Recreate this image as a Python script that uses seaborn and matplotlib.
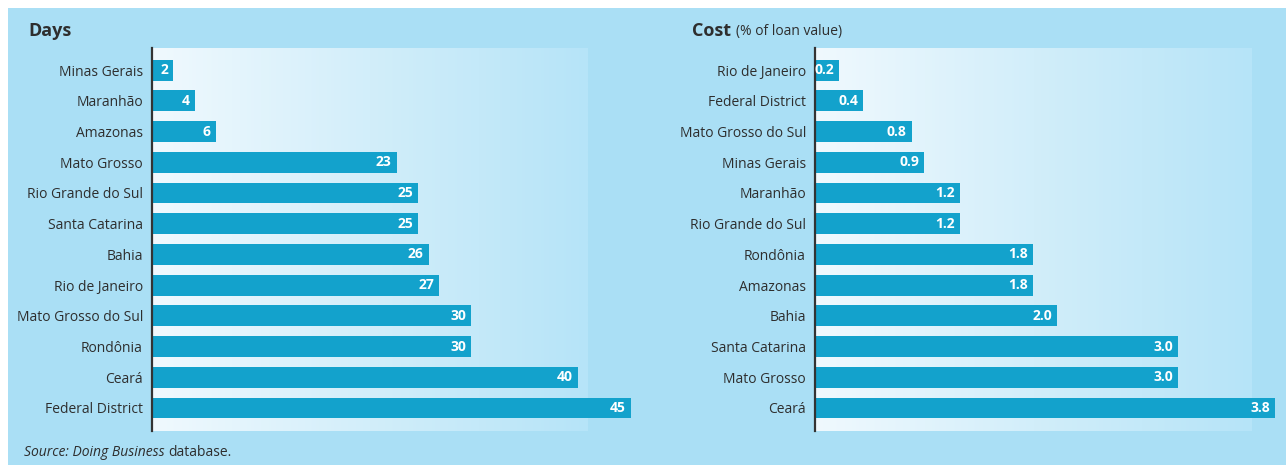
import numpy as np
import seaborn as sns
import matplotlib.pyplot as plt
from matplotlib.colors import LinearSegmentedColormap
from matplotlib.patches import Rectangle

days_states = ["Minas Gerais", "Maranhão", "Amazonas", "Mato Grosso", "Rio Grande do Sul",
               "Santa Catarina", "Bahia", "Rio de Janeiro", "Mato Grosso do Sul",
               "Rondônia", "Ceará", "Federal District"]
days_values = [2, 4, 6, 23, 25, 25, 26, 27, 30, 30, 40, 45]

cost_states = ["Rio de Janeiro", "Federal District", "Mato Grosso do Sul", "Minas Gerais",
               "Maranhão", "Rio Grande do Sul", "Rondônia", "Amazonas", "Bahia",
               "Santa Catarina", "Mato Grosso", "Ceará"]
cost_values = [0.2, 0.4, 0.8, 0.9, 1.2, 1.2, 1.8, 1.8, 2.0, 3.0, 3.0, 3.8]

BG = "#aadff5"
BAR = "#13a2cc"
TXT = "#2e2e2e"

sns.set_theme(style="white")
plt.rcParams["font.family"] = ["Open Sans", "DejaVu Sans"]

fig = plt.figure(figsize=(12.86, 4.65), dpi=100, facecolor="white")
fig.patches.append(Rectangle((8 / 1286, 0), 1, (465 - 8) / 465, transform=fig.transFigure,
                             facecolor=BG, edgecolor="none", zorder=-10))

grad = LinearSegmentedColormap.from_list("g", ["#f0f9fe", "#d2eefa", "#b6e4f8"])
ramp = np.linspace(0, 1, 256).reshape(1, -1)


def panel(rect, states, values, xmax, gmax, fmt):
    ax = fig.add_axes(rect)
    ax.set_facecolor("none")
    sns.barplot(x=values, y=states, order=states, color=BAR, saturation=1, width=0.68,
                orient="h", ax=ax, zorder=2, linewidth=0)
    ax.imshow(ramp, cmap=grad, aspect="auto", extent=(0, gmax, 11.75, -0.72), zorder=0)
    ax.set_xlim(0, xmax)
    ax.set_ylim(11.75, -0.72)
    ax.set_xlabel("")
    ax.set_ylabel("")
    ax.set_xticks([])
    for s in ["top", "right", "bottom"]:
        ax.spines[s].set_visible(False)
    ax.spines["left"].set_color("#333333")
    ax.spines["left"].set_linewidth(1.6)
    ax.spines["left"].set_zorder(3)
    ax.tick_params(axis="y", length=0, pad=6.5, labelsize=10, labelcolor=TXT)
    for i, v in enumerate(values):
        ax.annotate(fmt.format(v), (v, i), xytext=(-5, 0), textcoords="offset pixels",
                    ha="right", va="center", color="white", fontsize=10,
                    fontweight="bold", zorder=4)
    return ax


bottom = (465 - 431) / 465
height = (431 - 48) / 465
panel([152 / 1286, bottom, 488 / 1286, height], days_states, days_values,
      488 / 10.64, (588 - 152) / 10.64, "{:d}")
panel([815 / 1286, bottom, 467 / 1286, height], cost_states, cost_values,
      467 / 121, (1252 - 815) / 121, "{:.1f}")

fig.text(28 / 1286, 1 - 31 / 465, "Days", fontsize=13, fontweight="bold", color=TXT,
         ha="left", va="center")
fig.text(692 / 1286, 1 - 31 / 465, "Cost", fontsize=13, fontweight="bold", color=TXT,
         ha="left", va="center")
fig.text(736 / 1286, 1 - 31 / 465, "(% of loan value)", fontsize=10, color=TXT,
         ha="left", va="center")

src = fig.text(24 / 1286, 1 - 452 / 465, "Source: Doing Business", fontsize=10,
               style="italic", color=TXT, ha="left", va="center")
fig.canvas.draw()
ext = src.get_window_extent()
fig.text(ext.x1 / fig.bbox.width + 4 / 1286, 1 - 452 / 465, "database.", fontsize=10,
         color=TXT, ha="left", va="center")

fig.savefig("out.png", dpi=100, facecolor="white")
